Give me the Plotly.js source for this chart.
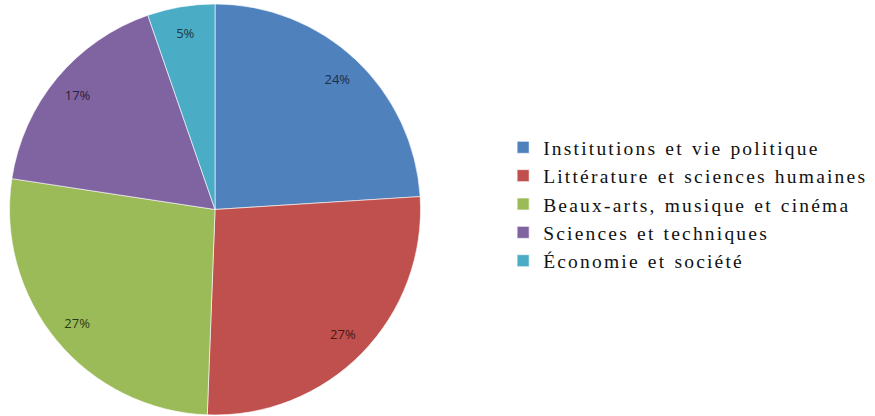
<!DOCTYPE html>
<html>
<head>
<meta charset="utf-8">
<script src="https://cdn.plot.ly/plotly-3.0.1.min.js"></script>
<style>
html,body{margin:0;padding:0;background:#fff;}
#chart{width:875px;height:416px;}
#chart .legendtext{letter-spacing:2.2px;word-spacing:1px;}
#chart .legend .scrollbox{clip-path:none !important;}
</style>
</head>
<body>
<div id="chart"></div>
<script>
const categories = [
  "Institutions et vie politique",
  "Littérature et sciences humaines",
  "Beaux-arts, musique et cinéma",
  "Sciences et techniques",
  "Économie et société"
];
const shares = [24.0, 26.6, 26.8, 17.3, 5.3];
const labelsText = ["24%", "27%", "27%", "17%", "5%"];

const colors = ["#4F81BD", "#C0504D", "#9BBB59", "#8064A2", "#4BACC6"];
const textColors = ["#1b2d4a", "#4a1614", "#2c3a14", "#2a1f3a", "#173a44"];
const dom = {x: [0, 0.4915], y: [0.0024, 0.9904]};

const main = {
  type: "pie",
  labels: categories,
  values: shares,
  sort: false,
  direction: "clockwise",
  rotation: 0,
  domain: dom,
  marker: {colors: colors, line: {color: "rgba(255,255,255,0.6)", width: 1}},
  textinfo: "none",
  hoverinfo: "label+percent"
};
const ring = {
  type: "pie",
  labels: categories,
  values: shares,
  text: labelsText,
  sort: false,
  direction: "clockwise",
  rotation: 0,
  hole: 0.74,
  domain: dom,
  showlegend: false,
  marker: {colors: colors.map(() => "rgba(0,0,0,0)"), line: {width: 0}},
  textinfo: "text",
  textposition: "inside",
  insidetextorientation: "horizontal",
  insidetextfont: {family: "Open Sans, sans-serif", size: 13, color: textColors},
  hoverinfo: "skip"
};

const layout = {
  width: 875, height: 416,
  margin: {l: 0, r: 0, t: 0, b: 0},
  paper_bgcolor: "#ffffff",
  plot_bgcolor: "#ffffff",
  showlegend: true,
  legend: {
    x: 0.575, xanchor: "left",
    y: 0.692, yanchor: "top",
    font: {family: "Liberation Serif, serif", size: 19.5, color: "#111111"},
    bgcolor: "rgba(0,0,0,0)",
    traceorder: "normal"
  }
};

Plotly.newPlot("chart", [main, ring], layout, {displayModeBar: false, staticPlot: true});
</script>
</body>
</html>
